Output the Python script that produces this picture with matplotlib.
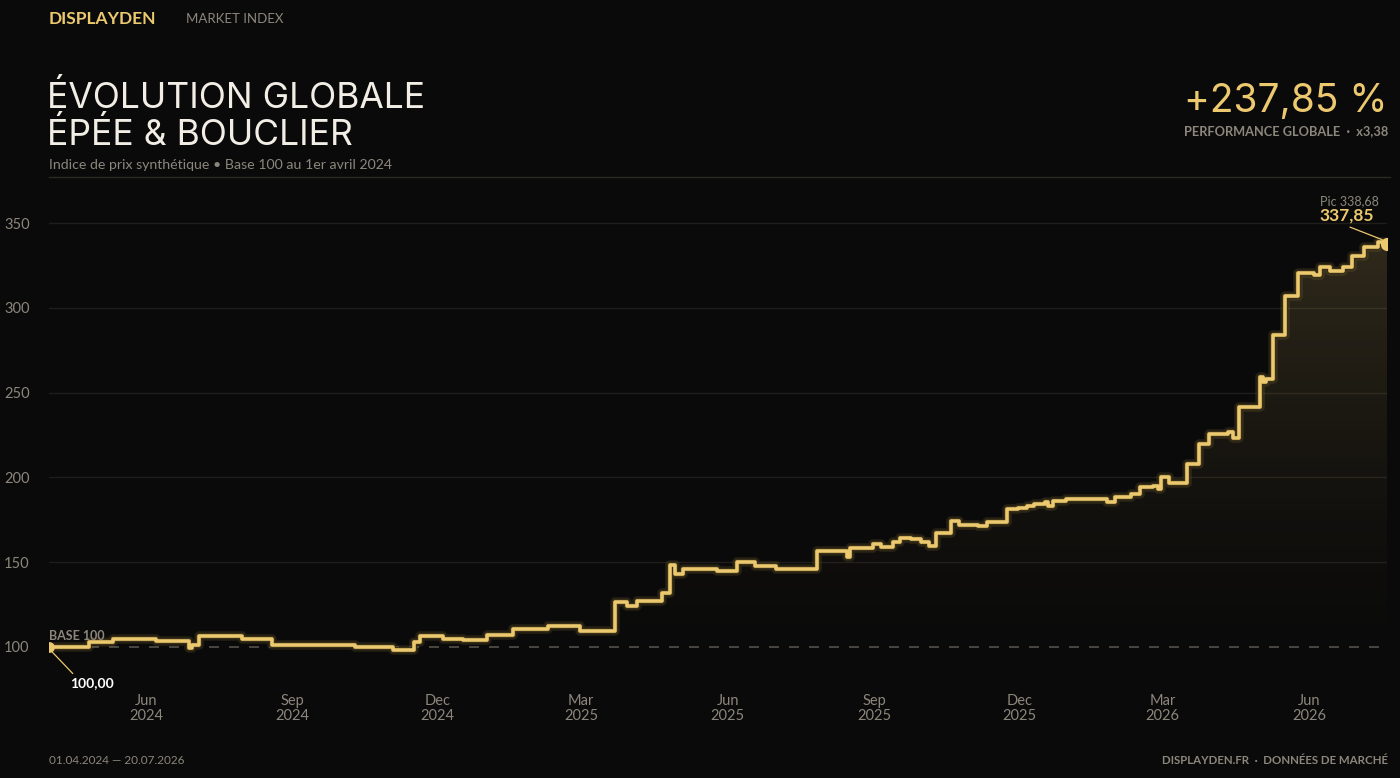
import numpy as np
import pandas as pd
import matplotlib
matplotlib.use("Agg")
import matplotlib.pyplot as plt
import matplotlib.dates as mdates

# step points (date of change, new index level)
dates = ["2024-04-01", "2024-04-26", "2024-05-11", "2024-06-07", "2024-06-28", "2024-06-30",
         "2024-07-04", "2024-07-31", "2024-08-02", "2024-08-19", "2024-10-10", "2024-11-03",
         "2024-11-16", "2024-11-20", "2024-12-04", "2024-12-17", "2025-01-01", "2025-01-17",
         "2025-02-08", "2025-02-28", "2025-03-22", "2025-03-30", "2025-04-05", "2025-04-21",
         "2025-04-26", "2025-04-29", "2025-05-04", "2025-05-25", "2025-06-07", "2025-06-18",
         "2025-07-01", "2025-07-27", "2025-08-15", "2025-08-17", "2025-08-31", "2025-09-05",
         "2025-09-13", "2025-09-17", "2025-09-24", "2025-09-30", "2025-10-05", "2025-10-10",
         "2025-10-19", "2025-10-24", "2025-11-05", "2025-11-11", "2025-11-23", "2025-11-30",
         "2025-12-06", "2025-12-10", "2025-12-17", "2025-12-19", "2025-12-22", "2025-12-30",
         "2026-01-25", "2026-01-30", "2026-02-09", "2026-02-15", "2026-02-23", "2026-02-26",
         "2026-02-28", "2026-03-05", "2026-03-16", "2026-03-24", "2026-03-30", "2026-04-11",
         "2026-04-14", "2026-04-18", "2026-05-01", "2026-05-03", "2026-05-05", "2026-05-09",
         "2026-05-17", "2026-05-25", "2026-06-04", "2026-06-08", "2026-06-14", "2026-06-22",
         "2026-06-28", "2026-07-05", "2026-07-14", "2026-07-20"]
values = [100.0, 103.1, 104.5, 103.7, 99.2, 101.2,
          106.5, 104.5, 104.9, 101.2, 99.8, 98.2,
          103.1, 106.5, 104.9, 104.2, 107.1, 110.6,
          112.4, 109.6, 126.7, 124.4, 127.3, 131.7,
          148.3, 143.0, 145.8, 145.0, 150.3, 148.0,
          145.8, 156.8, 152.9, 158.6, 160.6, 159.2,
          161.6, 164.4, 163.5, 162.1, 159.8, 167.0,
          174.5, 171.9, 171.3, 173.9, 181.2, 181.8,
          183.1, 184.3, 185.7, 183.1, 186.3, 187.1,
          185.7, 188.6, 190.2, 194.1, 194.9, 193.0,
          200.4, 196.9, 207.9, 219.7, 225.4, 226.6,
          223.0, 241.7, 259.4, 256.4, 258.0, 284.0,
          306.7, 320.3, 319.3, 324.2, 321.7, 324.2,
          330.5, 336.0, 338.68, 337.85]
y_ticks = [100, 150, 200, 250, 300, 350]

BG = "#0a0a0a"
GOLD = "#ecc96f"
GRAY = "#8c877c"
WHITE = "#f2eee6"

x = pd.to_datetime(dates)
y = np.array(values)

fig = plt.figure(figsize=(14, 7.78), dpi=100, facecolor=BG)
ax = fig.add_axes([0.035, 0.1131, 0.956, 0.649])
ax.set_facecolor(BG)

ax.set_xlim(x[0], x[-1])
ax.set_ylim(74.6, 372.4)

for t in y_ticks[1:]:
    ax.axhline(t, color="#1f1e1a", lw=1, zorder=1)
ax.axhline(100, color="#55524b", lw=1.2, ls=(0, (6, 6)), zorder=2)

# gradient fill under the line
poly = ax.fill_between(x, y, 74.6, step="post", facecolor="none", edgecolor="none")
grad = np.linspace(0, 1, 256).reshape(-1, 1)
rgba = np.zeros((256, 1, 4))
rgba[..., 0], rgba[..., 1], rgba[..., 2] = 0.93, 0.79, 0.44
rgba[..., 3] = 0.17 * grad ** 1.6
xn = mdates.date2num(x)
im = ax.imshow(rgba, extent=[xn[0], xn[-1], 74.6, 340], origin="lower", aspect="auto", zorder=2)
im.set_clip_path(poly.get_paths()[0], transform=ax.transData)

ax.plot(x, y, drawstyle="steps-post", color="#c9a44a", lw=7, alpha=0.13, zorder=3, solid_joinstyle="round")
ax.plot(x, y, drawstyle="steps-post", color="#3a3018", lw=4.6, zorder=3, solid_joinstyle="round")
ax.plot(x, y, drawstyle="steps-post", color=GOLD, lw=2.6, zorder=4, solid_joinstyle="round")

ax.scatter([x[0]], [y[0]], s=60, color=GOLD, zorder=5, clip_on=True, linewidths=0)
ax.scatter([x[-1]], [y[-1]], s=90, color=GOLD, zorder=5, clip_on=True, linewidths=0)

for s in ax.spines.values():
    s.set_visible(False)
ax.set_yticks(y_ticks)
ax.set_yticklabels([str(t) for t in y_ticks])
ax.xaxis.set_major_locator(mdates.MonthLocator(bymonth=[3, 6, 9, 12]))
ax.xaxis.set_major_formatter(mdates.DateFormatter("%b\n%Y"))
ax.tick_params(axis="both", length=0, colors=GRAY, labelsize=10.5)
ax.tick_params(axis="y", pad=14)
ax.tick_params(axis="x", pad=3)
for lab in ax.get_xticklabels() + ax.get_yticklabels():
    lab.set_fontfamily("Lato")
    lab.set_linespacing(1.1)

# annotations
ax.text(x[0], 103, "BASE 100", color=GRAY, fontsize=9, fontweight="bold", family="Lato",
        ha="left", va="bottom", zorder=6)
ax.annotate("100,00", xy=(x[0], 99), xytext=(15, -25), textcoords="offset points",
            color="white", fontsize=10, fontweight="bold", family="Lato", ha="left", va="center",
            arrowprops=dict(arrowstyle="-", color=GOLD, lw=0.9, shrinkA=1, shrinkB=2,
                            relpos=(0.15, 1.0)))
ax.annotate("337,85", xy=(x[-1], 339), xytext=(-29, 19), textcoords="offset points",
            color=GOLD, fontsize=12.5, fontweight="bold", family="Lato", ha="center", va="center",
            arrowprops=dict(arrowstyle="-", color=GOLD, lw=0.9, shrinkA=2, shrinkB=4,
                            relpos=(0.45, -0.1)), annotation_clip=False)
ax.annotate("Pic 338,68", xy=(x[-1], 339), xytext=(-27, 29), textcoords="offset points",
            color=GRAY, fontsize=9, family="Lato", ha="center", va="center", annotation_clip=False)

# header
fig.text(49 / 1400, 1 - 19 / 778, "DISPLAYDEN", color=GOLD, fontsize=12.5, fontweight="bold",
         family="Lato", ha="left", va="center")
fig.text(186 / 1400, 1 - 19 / 778, "MARKET INDEX", color=GRAY, fontsize=9.5, family="Lato",
         ha="left", va="center")
fig.text(47 / 1400, 1 - 108 / 778, "ÉVOLUTION GLOBALE", color=WHITE, fontsize=25.5,
         family="Inter", ha="left", va="baseline")
fig.text(47 / 1400, 1 - 145 / 778, "ÉPÉE & BOUCLIER", color=WHITE, fontsize=25.5,
         family="Inter", ha="left", va="baseline")
fig.text(49 / 1400, 1 - 165 / 778, "Indice de prix synthétique • Base 100 au 1er avril 2024",
         color=GRAY, fontsize=10.2, family="Lato", ha="left", va="center")
fig.text(1388 / 1400, 1 - 112 / 778, "+237,85 %", color=GOLD, fontsize=28,
         family="Inter", ha="right", va="baseline")
fig.text(1388 / 1400, 1 - 131 / 778, "PERFORMANCE GLOBALE  ·  x3,38", color=GRAY, fontsize=9.2,
         fontweight="bold", family="Lato", ha="right", va="center")
fig.add_artist(plt.Line2D([49 / 1400, 1390 / 1400], [1 - 177 / 778] * 2, color="#2b2920", lw=1))

# footer
fig.text(49 / 1400, 1 - 760 / 778, "01.04.2024 — 20.07.2026", color=GRAY, fontsize=8.5,
         family="Lato", ha="left", va="center")
fig.text(1388 / 1400, 1 - 760 / 778, "DISPLAYDEN.FR  ·  DONNÉES DE MARCHÉ", color=GRAY,
         fontsize=8.3, fontweight="bold", family="Lato", ha="right", va="center")

fig.savefig("out.png", dpi=100, facecolor=BG)
